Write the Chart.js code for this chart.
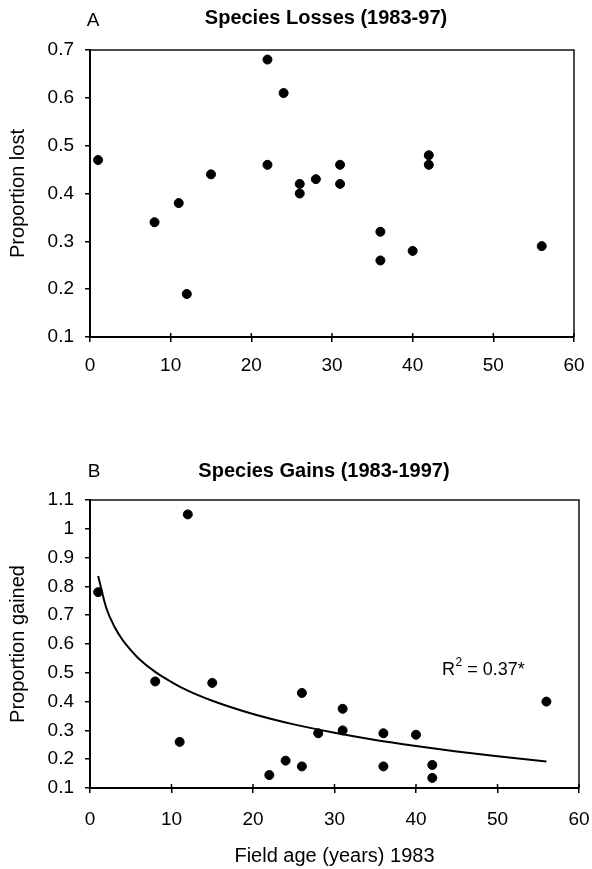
<!DOCTYPE html>
<html>
<head>
<meta charset="utf-8">
<script src="https://cdn.jsdelivr.net/npm/chart.js@4.4.1/dist/chart.umd.min.js"></script>
<style>
  html, body { margin: 0; padding: 0; background: #fff; }
  canvas { display: block; }
</style>
</head>
<body>
<canvas id="lossChart" width="592" height="430"></canvas>
<canvas id="gainChart" width="592" height="439"></canvas>
<script>
// field age in 1983 (years) and proportion of species lost 1983-97
const lossAges = [1, 8, 11, 12, 15, 22, 22, 24, 26, 26, 28, 31, 31, 36, 36, 40, 42, 42, 56];
const lossValues = [0.47, 0.34, 0.38, 0.19, 0.44, 0.68, 0.46, 0.61, 0.42, 0.40, 0.43, 0.46, 0.42, 0.32, 0.26, 0.28, 0.48, 0.46, 0.29];

// proportion of species gained 1983-1997
const gainAges = [1, 8, 11, 12, 15, 22, 24, 26, 26, 28, 31, 31, 36, 36, 40, 42, 42, 56];
const gainValues = [0.78, 0.47, 0.26, 1.05, 0.465, 0.145, 0.195, 0.43, 0.175, 0.29, 0.375, 0.30, 0.29, 0.175, 0.285, 0.18, 0.135, 0.40];

// fitted curve
const fitAges = [1, 2, 3, 4, 5, 6, 8, 10, 12, 15, 20, 25, 30, 35, 40, 45, 50, 56];
const fitValues = [0.836, 0.725, 0.66, 0.614, 0.579, 0.549, 0.503, 0.468, 0.438, 0.403, 0.357, 0.321, 0.292, 0.267, 0.246, 0.227, 0.21, 0.192];

const ageTicks = [0, 10, 20, 30, 40, 50, 60];
const lossTicks = [0.1, 0.2, 0.3, 0.4, 0.5, 0.6, 0.7];
const gainTicks = [0.1, 0.2, 0.3, 0.4, 0.5, 0.6, 0.7, 0.8, 0.9, 1, 1.1];

const FONT = "'Liberation Sans', Arial, sans-serif";

function toPoints(xs, ys) {
    return xs.map((x, i) => ({ x: x, y: ys[i] }));
}

// full box around the plot area, plus x ticks poking inside
const framePlugin = {
    id: 'frame',
    afterDraw(chart) {
        const a = chart.chartArea, ctx = chart.ctx;
        ctx.save();
        ctx.strokeStyle = '#111';
        ctx.lineWidth = 1.5;
        ctx.beginPath();
        ctx.moveTo(a.left, a.top);
        ctx.lineTo(a.right, a.top);
        ctx.lineTo(a.right, a.bottom);
        ctx.stroke();
        ctx.strokeStyle = '#000';
        ctx.beginPath();
        ageTicks.forEach(v => {
            const px = chart.scales.x.getPixelForValue(v);
            ctx.moveTo(px, a.bottom);
            ctx.lineTo(px, a.bottom - 4);
        });
        ctx.stroke();
        ctx.restore();
    }
};

function textPlugin(items) {
    return {
        id: 'texts',
        afterDraw(chart) {
            const ctx = chart.ctx;
            ctx.save();
            ctx.fillStyle = '#000';
            ctx.textBaseline = 'middle';
            items.forEach(t => {
                ctx.font = t.font;
                ctx.textAlign = t.align || 'left';
                ctx.fillText(t.text, t.x, t.y);
            });
            ctx.restore();
        }
    };
}

function axes(yTicks, yTitle, xPad, xHeight, xTitle) {
    return {
        x: {
            type: 'linear',
            min: 0, max: 60,
            afterBuildTicks: s => { s.ticks = ageTicks.map(v => ({ value: v })); },
            afterFit: s => {
                s.height = xHeight;
                // keep tick padding from eating into the right margin
                s.paddingLeft = 0;
                s.paddingRight = 0;
            },
            grid: { drawOnChartArea: false, drawTicks: true, tickLength: 5, color: '#000', lineWidth: 1.5 },
            border: { display: true, color: '#000', width: 2 },
            ticks: { color: '#000', padding: xPad, font: { family: FONT, size: 19 } },
            title: xTitle ? { display: true, text: xTitle, color: '#000', padding: { top: 0, bottom: 1 }, font: { family: FONT, size: 20 } } : { display: false }
        },
        y: {
            type: 'linear',
            min: yTicks[0], max: yTicks[yTicks.length - 1],
            afterBuildTicks: s => { s.ticks = yTicks.map(v => ({ value: v })); },
            afterFit: s => { s.width = 90; },
            grid: { drawOnChartArea: false, drawTicks: true, tickLength: 5, color: '#000', lineWidth: 1.5 },
            border: { display: true, color: '#000', width: 2 },
            ticks: {
                color: '#000', padding: 11, font: { family: FONT, size: 19 },
                callback: v => String(Number(v.toFixed(1)))
            },
            title: { display: true, text: yTitle, color: '#000', padding: { top: 6, bottom: 0 }, font: { family: FONT, size: 20 } }
        }
    };
}

const dotStyle = {
    backgroundColor: '#000',
    borderColor: '#000',
    pointRadius: 4.5,
    pointHoverRadius: 4.5,
    showLine: false
};

new Chart(document.getElementById('lossChart'), {
    type: 'scatter',
    data: {
        datasets: [Object.assign({ label: 'Losses', data: toPoints(lossAges, lossValues) }, dotStyle)]
    },
    options: {
        responsive: false,
        animation: false,
        layout: { padding: { left: 0, right: 18, top: 50, bottom: 53 } },
        plugins: { legend: { display: false }, tooltip: { enabled: false } },
        scales: axes(lossTicks, 'Proportion lost', 12, 40, null)
    },
    plugins: [framePlugin, textPlugin([
        { text: 'A', x: 93, y: 21, align: 'center', font: '19px ' + FONT },
        { text: 'Species Losses (1983-97)', x: 326, y: 18, align: 'center', font: 'bold 20px ' + FONT }
    ])]
});

new Chart(document.getElementById('gainChart'), {
    type: 'scatter',
    data: {
        datasets: [
            Object.assign({ label: 'Gains', data: toPoints(gainAges, gainValues) }, dotStyle),
            {
                label: 'Fit',
                data: toPoints(fitAges, fitValues),
                showLine: true,
                borderColor: '#000',
                borderWidth: 2,
                pointRadius: 0,
                cubicInterpolationMode: 'monotone'
            }
        ]
    },
    options: {
        responsive: false,
        animation: false,
        layout: { padding: { left: 0, right: 13, top: 70, bottom: 0 } },
        plugins: { legend: { display: false }, tooltip: { enabled: false } },
        scales: axes(gainTicks, 'Proportion gained', 15, 81, 'Field age (years) 1983')
    },
    plugins: [framePlugin, textPlugin([
        { text: 'B', x: 94, y: 42, align: 'center', font: '19px ' + FONT },
        { text: 'Species Gains (1983-1997)', x: 324, y: 41, align: 'center', font: 'bold 20px ' + FONT }
    ]), {
        id: 'rsq',
        afterDraw(chart) {
            const ctx = chart.ctx;
            let x = 442, y = 240;
            ctx.save();
            ctx.fillStyle = '#000';
            ctx.textBaseline = 'middle';
            ctx.textAlign = 'left';
            ctx.font = '18px ' + FONT;
            ctx.fillText('R', x, y);
            x += ctx.measureText('R').width + 0.5;
            ctx.font = '12px ' + FONT;
            ctx.fillText('2', x, y - 7);
            x += ctx.measureText('2').width;
            ctx.font = '18px ' + FONT;
            ctx.fillText(' = 0.37*', x, y);
            ctx.restore();
        }
    }]
});
</script>
</body>
</html>
